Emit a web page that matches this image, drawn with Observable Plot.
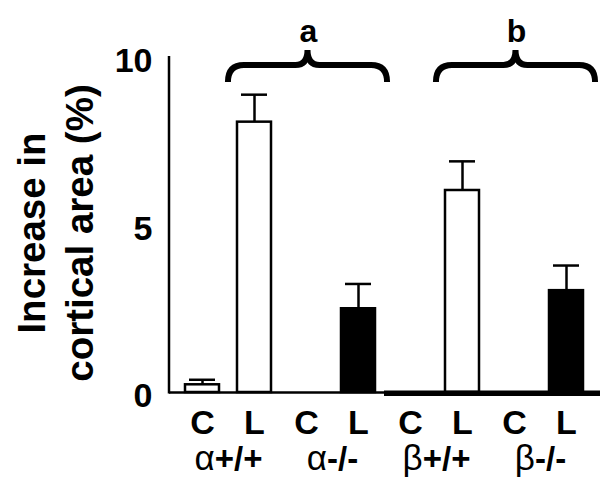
<!DOCTYPE html>
<html>
<head>
<meta charset="utf-8">
<script src="https://cdn.jsdelivr.net/npm/d3@7"></script>
<script src="https://cdn.jsdelivr.net/npm/@observablehq/plot@0.6"></script>
<style>
  html, body { margin: 0; padding: 0; background: white; }
</style>
</head>
<body>
<div id="chart"></div>
<script>
// ---- data ----
const genotypes = ["α+/+", "α-/-", "β+/+", "β-/-"];
const conditions = ["C", "L"];
// mean increase in cortical area (%), order: genotype x condition
const means = [0.23, 8.07, 0, 2.50, 0, 6.03, 0, 3.04];
const errors = [0.15, 0.82, 0, 0.74, 0, 0.87, 0, 0.75];
const yTicks = [0, 5, 10];
const braces = [
  {label: "a", genotype: "α-/-"},
  {label: "b", genotype: "β-/-"}
];
const yLabel = "Increase in\ncortical area (%)";

const keyOf = (g, c) => `${g} ${c}`;
const rows = [];
genotypes.forEach((g, gi) => conditions.forEach((c, ci) => {
  const i = gi * conditions.length + ci;
  rows.push({key: keyOf(g, c), genotype: g, cond: c, mean: means[i], err: errors[i], top: means[i] + errors[i]});
}));
const keys = rows.map(d => d.key);
const errRows = rows.filter(d => d.err > 0);
const genoRows = genotypes.map(g => ({key: keyOf(g, "C"), label: g}));

const font = "'Liberation Sans', Arial, Helvetica, sans-serif";

// custom decorations drawn through the scales
const axisAndBaseline = (index, scales, values, dim) => {
  const x = scales.x, y = scales.y;
  const bw = typeof x.bandwidth === "function" ? x.bandwidth() : x.bandwidth;
  const g = d3.create("svg:g").attr("stroke", "black").attr("fill", "none");
  const x0 = dim.marginLeft + 4;
  const split = (x(keyOf("α-/-", "L")) + bw + x(keyOf("β+/+", "C"))) / 2;
  const xEnd = dim.width - 2;
  g.append("line").attr("x1", x0).attr("x2", x0).attr("y1", y(10) - 1).attr("y2", y(0) + 1.5).attr("stroke-width", 2.5);
  g.append("line").attr("x1", x0).attr("x2", split).attr("y1", y(0) + 0.5).attr("y2", y(0) + 0.5).attr("stroke-width", 2.5);
  g.append("line").attr("x1", split).attr("x2", xEnd).attr("y1", y(0) + 1.2).attr("y2", y(0) + 1.2).attr("stroke-width", 5.5);
  return g.node();
};

const braceMark = (index, scales, values, dim) => {
  const x = scales.x;
  const bw = typeof x.bandwidth === "function" ? x.bandwidth() : x.bandwidth;
  const step = x(keyOf(genotypes[0], "L")) - x(keyOf(genotypes[0], "C"));
  const g = d3.create("svg:g").attr("fill", "none").attr("stroke", "black").attr("stroke-width", 6);
  for (const b of braces) {
    const xc = x(keyOf(b.genotype, "C")) + bw / 2 + 1.5;
    const h = 1.53 * step;
    const xa = xc - h, xb = xc + h;
    const yl = dim.marginTop + 8, ye = dim.marginTop + 25, yc = dim.marginTop - 7;
    const r = 16, rc = 12;
    const d = `M${xa},${ye} Q${xa},${yl} ${xa + r},${yl} L${xc - rc},${yl} Q${xc},${yl} ${xc},${yc} ` +
              `Q${xc},${yl} ${xc + rc},${yl} L${xb - r},${yl} Q${xb},${yl} ${xb},${ye}`;
    g.append("path").attr("d", d);
  }
  return g.node();
};

const chart = Plot.plot({
  width: 602,
  height: 477,
  marginTop: 57,
  marginBottom: 85,
  marginLeft: 165,
  marginRight: 0,
  style: {fontFamily: font, background: "white", color: "black", overflow: "visible"},
  x: {domain: keys, padding: 0.35, axis: null},
  y: {domain: [0, 10], axis: null},
  color: {domain: genotypes, range: ["white", "black", "white", "black"]},
  marks: [
    Plot.barY(rows, {x: "key", y: "mean", fill: "genotype", stroke: "black", strokeWidth: 2.5}),
    Plot.ruleX(errRows, {x: "key", y1: "mean", y2: "top", stroke: "black", strokeWidth: 2.5}),
    Plot.tickY(errRows, {x: "key", y: "top", stroke: "black", strokeWidth: 2.5, inset: 4}),
    axisAndBaseline,
    braceMark,
    Plot.axisY(yTicks, {tickSize: 0, tickPadding: 13, fontSize: 34, fontWeight: "bold", dy: 4, fill: "black"}),
    Plot.text(rows, {x: "key", text: "cond", frameAnchor: "bottom", lineAnchor: "bottom", dy: 41, fontSize: 34, fontWeight: "bold", fill: "black"}),
    Plot.text(genoRows, {x: "key", text: "label", frameAnchor: "bottom", lineAnchor: "bottom", dx: 26, dy: 77, fontSize: 33, fontWeight: "bold", fill: "black"}),
    Plot.text(braces, {x: d => keyOf(d.genotype, "C"), text: "label", frameAnchor: "top", lineAnchor: "bottom", dx: 2, dy: -16, fontSize: 32, fontWeight: "bold", fill: "black"}),
    Plot.text([yLabel], {text: d => d, frameAnchor: "left", dx: -111.5, dy: 8, rotate: -90, textAnchor: "middle", fontSize: 38.5, fontWeight: "bold", lineHeight: 48 / 38.5, fill: "black"})
  ]
});

// Greek letters in regular weight (slightly larger), rest bold
d3.select(chart).selectAll("text").each(function() {
  const t = this.textContent;
  if (!genotypes.includes(t)) return;
  const sel = d3.select(this);
  sel.text(null);
  sel.append("tspan").attr("font-weight", "normal").attr("font-size", 35).text(t[0]);
  sel.append("tspan").attr("font-weight", "bold").attr("font-size", 33).text(t.slice(1));
});

document.getElementById("chart").appendChild(chart);
</script>
</body>
</html>
